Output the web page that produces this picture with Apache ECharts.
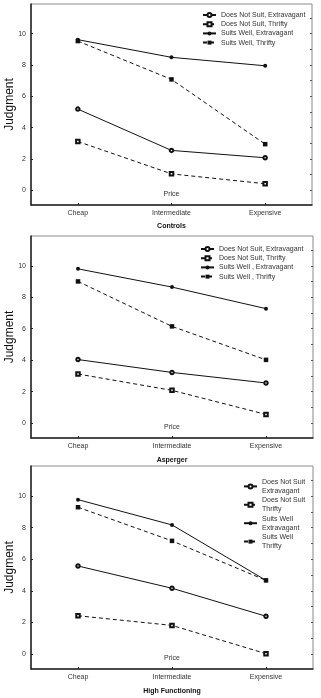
<!DOCTYPE html>
<html>
<head>
<meta charset="utf-8">
<script src="https://cdn.jsdelivr.net/npm/echarts@6/dist/echarts.min.js"></script>
<style>
html,body{margin:0;padding:0;background:#fff;}
#main{width:321px;height:698px;}
</style>
</head>
<body>
<div id="main"></div>
<script>
// ---- data ----
var categories = ['Cheap', 'Intermediate', 'Expensive'];
var panelTitles = ['Controls', 'Asperger', 'High Functioning'];
var xAxisTitle = 'Price';
var yAxisTitle = 'Judgment';
var yTickLabels = [0, 2, 4, 6, 8, 10];
var rightTicks = [0, 1, 2, 3, 4, 5, 6, 7, 8, 9, 10, 11];

var namesControls = ['Does Not Suit, Extravagant', 'Does Not Suit, Thrifty', 'Suits Well, Extravagant', 'Suits Well, Thrifty'];
var namesAsperger = ['Does Not Suit, Extravagant', 'Does Not Suit, Thrifty', 'Suits Well , Extravagant', 'Suits Well , Thrifty'];
var namesHF = ['Does Not Suit\nExtravagant', 'Does Not Suit\nThrifty', 'Suits Well\nExtravagant', 'Suits Well\nThrifty'];

// Controls
var ctrlDNSExtravagant = [5.18, 2.54, 2.07];
var ctrlDNSThrifty = [3.11, 1.04, 0.41];
var ctrlSWExtravagant = [9.62, 8.49, 7.95];
var ctrlSWThrifty = [9.53, 7.08, 2.94];
// Asperger
var aspDNSExtravagant = [4.04, 3.22, 2.55];
var aspDNSThrifty = [3.12, 2.08, 0.55];
var aspSWExtravagant = [9.81, 8.65, 7.28];
var aspSWThrifty = [9.01, 6.15, 4.02];
// High Functioning
var hfDNSExtravagant = [5.57, 4.16, 2.39];
var hfDNSThrifty = [2.42, 1.81, 0.02];
var hfSWExtravagant = [9.77, 8.17, 4.66];
var hfSWThrifty = [9.29, 7.16, 4.66];

var panelData = [
  [ctrlDNSExtravagant, ctrlDNSThrifty, ctrlSWExtravagant, ctrlSWThrifty],
  [aspDNSExtravagant, aspDNSThrifty, aspSWExtravagant, aspSWThrifty],
  [hfDNSExtravagant, hfDNSThrifty, hfSWExtravagant, hfSWThrifty]
];
var panelNames = [namesControls, namesAsperger, namesHF];

// ---- layout / style ----
var FONT = 'Liberation Sans, Arial, sans-serif';
var grids = [
  {left: 31, top: 4, width: 281, height: 201},
  {left: 31, top: 236, width: 282, height: 202},
  {left: 31, top: 466, width: 282, height: 203}
];
var legendPos = [
  {left: 202, top: 10.4},
  {left: 200, top: 244.4},
  {left: 243, top: 472.6}
];
var titleY = [226, 460, 691];
var seriesStyle = [
  {symbol: 'emptyCircle', type: 'solid', size: 3.5},
  {symbol: 'emptyRect', type: [4, 3], size: 3.5},
  {symbol: 'circle', type: 'solid', size: 4},
  {symbol: 'rect', type: [4, 3], size: 4.5}
];

var option = {
  animation: false,
  backgroundColor: '#fff',
  textStyle: {fontFamily: FONT},
  grid: [], xAxis: [], yAxis: [], series: [], legend: [], graphic: []
};

for (var p = 0; p < 3; p++) {
  var g = grids[p];
  option.grid.push({left: g.left, top: g.top, width: g.width, height: g.height,
    containLabel: false, outerBoundsMode: 'none',
    show: true, borderColor: '#8a8a8a', borderWidth: 1, backgroundColor: 'transparent'});
  option.xAxis.push({
    type: 'category', gridIndex: p, data: categories, boundaryGap: true,
    axisLine: {onZero: false, lineStyle: {color: '#222', width: 1.5}},
    axisTick: {show: true, inside: true, length: 2, alignWithLabel: true, lineStyle: {color: '#222'}},
    axisLabel: {fontSize: 7, color: '#333', margin: 5, fontFamily: FONT},
    splitLine: {show: false}
  });
  option.yAxis.push({
    type: 'value', gridIndex: p, min: -0.95, max: 11.9,
    name: yAxisTitle, nameLocation: 'middle', nameGap: 15, nameMoveOverlap: false,
    nameTextStyle: {fontSize: 12, color: '#111', fontFamily: FONT},
    axisLine: {show: true, lineStyle: {color: '#222', width: 1.5}},
    axisTick: {show: true, inside: true, length: 2, customValues: yTickLabels, lineStyle: {color: '#222'}},
    axisLabel: {fontSize: 7, color: '#333', margin: 5, customValues: yTickLabels, fontFamily: FONT},
    splitLine: {show: false}
  });
  option.yAxis.push({
    type: 'value', gridIndex: p, min: -0.95, max: 11.9, position: 'right',
    axisLine: {show: false},
    axisTick: {show: true, inside: true, length: 2, customValues: rightTicks, lineStyle: {color: '#555'}},
    axisLabel: {show: false},
    splitLine: {show: false}
  });
  var names = panelNames[p];
  for (var s = 0; s < 4; s++) {
    var st = seriesStyle[s];
    option.series.push({
      type: 'line', name: names[s], xAxisIndex: p, yAxisIndex: p * 2,
      data: panelData[p][s],
      symbol: st.symbol, symbolSize: st.size,
      lineStyle: {color: '#111', width: 1, type: st.type},
      itemStyle: {color: '#111', borderWidth: 0.8},
      z: 3
    });
  }
  var leg = {
    orient: 'vertical', left: legendPos[p].left, top: legendPos[p].top,
    padding: 0, itemWidth: 13, itemHeight: 5, itemGap: 0,
    data: names,
    textStyle: {fontSize: 7, color: '#333', lineHeight: 9.2, fontFamily: FONT}
  };
  if (p === 2) {
    leg.textStyle.padding = [9.2, 0, 0, 0];
    leg.itemGap = -9.2;
  }
  option.legend.push(leg);
  option.graphic.push({
    type: 'text', x: g.left + g.width / 2, y: titleY[p],
    style: {text: panelTitles[p], fontSize: 7, fontWeight: 'bold', fill: '#111',
      fontFamily: FONT, align: 'center', verticalAlign: 'middle'}
  });
  option.graphic.push({
    type: 'text', x: g.left + g.width / 2, y: g.top + g.height - 11,
    style: {text: xAxisTitle, fontSize: 7, fill: '#333',
      fontFamily: FONT, align: 'center', verticalAlign: 'middle'}
  });
}

var chart = echarts.init(document.getElementById('main'), null, {renderer: 'canvas'});
chart.setOption(option);
</script>
</body>
</html>
